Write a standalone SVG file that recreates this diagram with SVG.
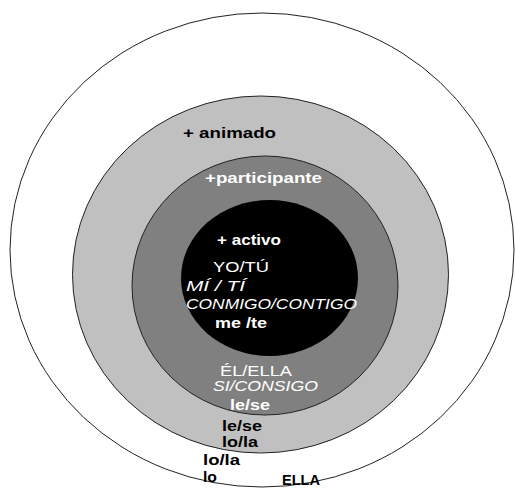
<svg xmlns="http://www.w3.org/2000/svg" width="515" height="488" viewBox="0 0 515 488">
<style>
.ring{stroke:#222;stroke-width:1}
.t{font-family:"Liberation Sans",Arial,sans-serif;font-size:15px}
.b{font-weight:bold}
.i{font-style:italic;font-size:14px}
.w{fill:#fff}
.k{fill:#000}
</style>
<rect width="515" height="488" fill="#fff"/>
<g id="ring-outer"><ellipse class="ring" cx="262" cy="250" rx="252" ry="237" fill="#fff"/></g>
<g id="ring-animado"><ellipse class="ring" cx="260.5" cy="274.5" rx="188" ry="178.5" fill="#c0c0c0"/></g>
<g id="ring-participante"><ellipse class="ring" cx="265" cy="285.5" rx="133" ry="129.5" fill="#808080"/></g>
<g id="ring-activo"><ellipse cx="269.5" cy="278" rx="88.5" ry="78" fill="#000"/></g>
<g id="labels">
<text class="t b k" x="183" y="138" textLength="93" lengthAdjust="spacingAndGlyphs">+ animado</text>
<text class="t b w" x="205" y="183" textLength="117" lengthAdjust="spacingAndGlyphs">+participante</text>
<text class="t b w" x="217" y="245" textLength="64" lengthAdjust="spacingAndGlyphs">+ activo</text>
<text class="t w" x="213" y="272" textLength="56" lengthAdjust="spacingAndGlyphs">YO/TÚ</text>
<text class="t i w" x="186" y="291" textLength="59" lengthAdjust="spacingAndGlyphs">MÍ / TÍ</text>
<text class="t i w" x="186" y="309" textLength="171" lengthAdjust="spacingAndGlyphs">CONMIGO/CONTIGO</text>
<text class="t b w" x="215" y="328" textLength="52" lengthAdjust="spacingAndGlyphs">me /te</text>
<text class="t w" x="220" y="376" textLength="72" lengthAdjust="spacingAndGlyphs">ÉL/ELLA</text>
<text class="t i w" x="213" y="391" font-size="13" textLength="105" lengthAdjust="spacingAndGlyphs">SI/CONSIGO</text>
<text class="t b w" x="230" y="410" textLength="40" lengthAdjust="spacingAndGlyphs">le/se</text>
<text class="t b k" x="222" y="431" textLength="40" lengthAdjust="spacingAndGlyphs">le/se</text>
<text class="t b k" x="222" y="447" textLength="36" lengthAdjust="spacingAndGlyphs">lo/la</text>
<text class="t b k" x="203" y="465" textLength="37" lengthAdjust="spacingAndGlyphs">lo/la</text>
<text class="t b k" x="203" y="482" textLength="14" lengthAdjust="spacingAndGlyphs">lo</text>
<text class="t b k" x="282" y="485" font-size="14" textLength="38" lengthAdjust="spacingAndGlyphs">ELLA</text>
</g>
</svg>
